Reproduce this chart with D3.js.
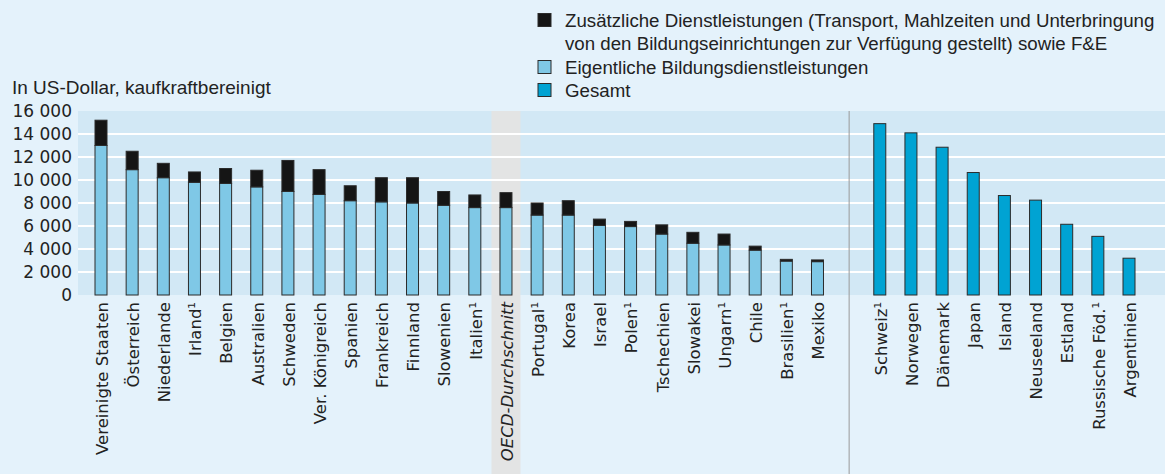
<!DOCTYPE html>
<html>
<head>
<meta charset="utf-8">
<script src="https://cdn.jsdelivr.net/npm/d3@7"></script>
<style>
  body { margin: 0; background: #e4f2fb; }
  svg { display: block; }
</style>
</head>
<body>
<svg id="chart" width="1165" height="474"></svg>
<script>
// Länder mit Aufschlüsselung
const countries = [
  "Vereinigte Staaten", "Österreich", "Niederlande", "Irland¹", "Belgien",
  "Australien", "Schweden", "Ver. Königreich", "Spanien", "Frankreich",
  "Finnland", "Slowenien", "Italien¹", "OECD-Durchschnitt", "Portugal¹",
  "Korea", "Israel", "Polen¹", "Tschechien", "Slowakei", "Ungarn¹",
  "Chile", "Brasilien¹", "Mexiko",
];
const coreValues = [
  13000, 10900, 10200, 9800, 9700, 9400, 9000, 8750, 8200, 8100,
  8000, 7800, 7600, 7600, 6950, 6950, 6050, 5950, 5300, 4500, 4350,
  3900, 2950, 2900,
];
const extraValues = [
  2200, 1600, 1250, 900, 1300, 1450, 2700, 2150, 1300, 2100,
  2200, 1200, 1100, 1300, 1050, 1250, 550, 450, 800, 950, 950,
  350, 150, 150,
];

// Länder nur mit Gesamtwert
const totalCountries = [
  "Schweiz¹", "Norwegen", "Dänemark", "Japan", "Island",
  "Neuseeland", "Estland", "Russische Föd.¹", "Argentinien",
];
const totalValues = [14900, 14100, 12850, 10650, 8650, 8250, 6150, 5100, 3200];

const yTicks = [0, 2000, 4000, 6000, 8000, 10000, 12000, 14000, 16000];
const legendItems = [
  { key: "extra", lines: ["Zusätzliche Dienstleistungen (Transport, Mahlzeiten und Unterbringung",
                          "von den Bildungseinrichtungen zur Verfügung gestellt) sowie F&E"] },
  { key: "core", lines: ["Eigentliche Bildungsdienstleistungen"] },
  { key: "total", lines: ["Gesamt"] },
];

const colors = { extra: "#151515", core: "#7fc8e6", total: "#00a3d3" };
const avgName = "OECD-Durchschnitt";

const svg = d3.select("#chart");
const plot = { left: 78, right: 1165, top: 111, bottom: 295 };
const labelFont = "'DejaVu Sans', sans-serif";
const textFont = "'Liberation Sans Narrow', 'Liberation Sans', sans-serif";

// x: ein leerer Platz zwischen den beiden Gruppen
const slots = [...countries, "__gap", ...totalCountries];
const x = d3.scalePoint().domain(slots).range([101, 1129]);
const barW = 12;

const y = d3.scaleLinear().domain([0, 16000]).range([plot.bottom, plot.top]);

// Hintergrund des Diagramms
svg.append("rect")
  .attr("x", plot.left)
  .attr("y", plot.top)
  .attr("width", plot.right - plot.left)
  .attr("height", plot.bottom - plot.top)
  .attr("fill", "#d2e8f5");

// graues Band für OECD-Durchschnitt
svg.append("rect")
  .attr("x", x(avgName) - 14.5)
  .attr("y", plot.top)
  .attr("width", 29)
  .attr("height", 474 - plot.top)
  .attr("fill", "#e3e4e4");

// Gitterlinien
svg.append("g")
  .selectAll("line")
  .data(yTicks.filter((d) => d > 0 && d < 16000))
  .enter()
  .append("line")
  .attr("x1", plot.left)
  .attr("x2", plot.right)
  .attr("y1", (d) => y(d))
  .attr("y2", (d) => y(d))
  .attr("stroke", "#ffffff")
  .attr("stroke-width", 2);

// Trennlinie
const sepX = (x(countries[countries.length - 1]) + x(totalCountries[0])) / 2 + 0.5;
svg.append("line")
  .attr("x1", sepX)
  .attr("x2", sepX)
  .attr("y1", plot.top)
  .attr("y2", 474)
  .attr("stroke", "#9a9a9a")
  .attr("stroke-width", 1);

// gestapelte Balken
const stackData = countries.map((c, i) => ({ name: c, core: coreValues[i], extra: extraValues[i] }));
const series = d3.stack().keys(["core", "extra"])(stackData);

svg.append("g")
  .selectAll("g")
  .data(series)
  .enter()
  .append("g")
  .attr("fill", (s) => colors[s.key])
  .selectAll("rect")
  .data((s) => s)
  .enter()
  .append("rect")
  .attr("x", (d) => x(d.data.name) - barW / 2)
  .attr("y", (d) => y(d[1]))
  .attr("width", barW)
  .attr("height", (d) => y(d[0]) - y(d[1]))
  .attr("stroke", "#2b2b2b")
  .attr("stroke-width", 1);

// Gesamt-Balken
svg.append("g")
  .selectAll("rect")
  .data(totalCountries.map((c, i) => ({ name: c, value: totalValues[i] })))
  .enter()
  .append("rect")
  .attr("x", (d) => x(d.name) - barW / 2)
  .attr("y", (d) => y(d.value))
  .attr("width", barW)
  .attr("height", (d) => y(0) - y(d.value))
  .attr("fill", colors.total)
  .attr("stroke", "#2b2b2b")
  .attr("stroke-width", 1);

// y-Achse
const yAxis = svg.append("g")
  .attr("transform", `translate(${plot.left}, 0)`)
  .call(d3.axisLeft(y).tickValues(yTicks).tickSize(0).tickPadding(6)
    .tickFormat((d) => d3.format(",")(d).replace(",", " ")));
yAxis.select(".domain").remove();
yAxis.selectAll("text")
  .attr("fill", "#222")
  .style("font-family", labelFont)
  .style("font-size", "17px");

// x-Beschriftungen
svg.append("g")
  .selectAll("text")
  .data(slots.filter((d) => d !== "__gap"))
  .enter()
  .append("text")
  .attr("transform", (d) => `translate(${x(d) + 1}, ${plot.bottom + 7}) rotate(-90)`)
  .attr("dy", "0.35em")
  .attr("text-anchor", "end")
  .attr("fill", "#222")
  .style("font-family", labelFont)
  .style("font-size", "16.5px")
  .style("font-style", (d) => (d === avgName ? "italic" : "normal"))
  .text((d) => d);

// Achsentitel
svg.append("text")
  .attr("x", 12)
  .attr("y", 94)
  .attr("fill", "#222")
  .style("font-family", textFont)
  .style("font-size", "19px")
  .text("In US-Dollar, kaufkraftbereinigt");

// Legende
const legend = svg.append("g").attr("transform", "translate(538, 0)");
const rowY = [20, 67, 90];
legendItems.forEach((item, i) => {
  legend.append("rect")
    .attr("x", 0)
    .attr("y", rowY[i] - 6.5)
    .attr("width", 13)
    .attr("height", 13)
    .attr("fill", colors[item.key])
    .attr("stroke", "#2b2b2b")
    .attr("stroke-width", 1);
  item.lines.forEach((line, j) => {
    legend.append("text")
      .attr("x", 27)
      .attr("y", rowY[i] + j * 23)
      .attr("dy", "0.35em")
      .attr("fill", "#222")
      .style("font-family", textFont)
      .style("font-size", "18.7px")
      .text(line);
  });
});
</script>
</body>
</html>
